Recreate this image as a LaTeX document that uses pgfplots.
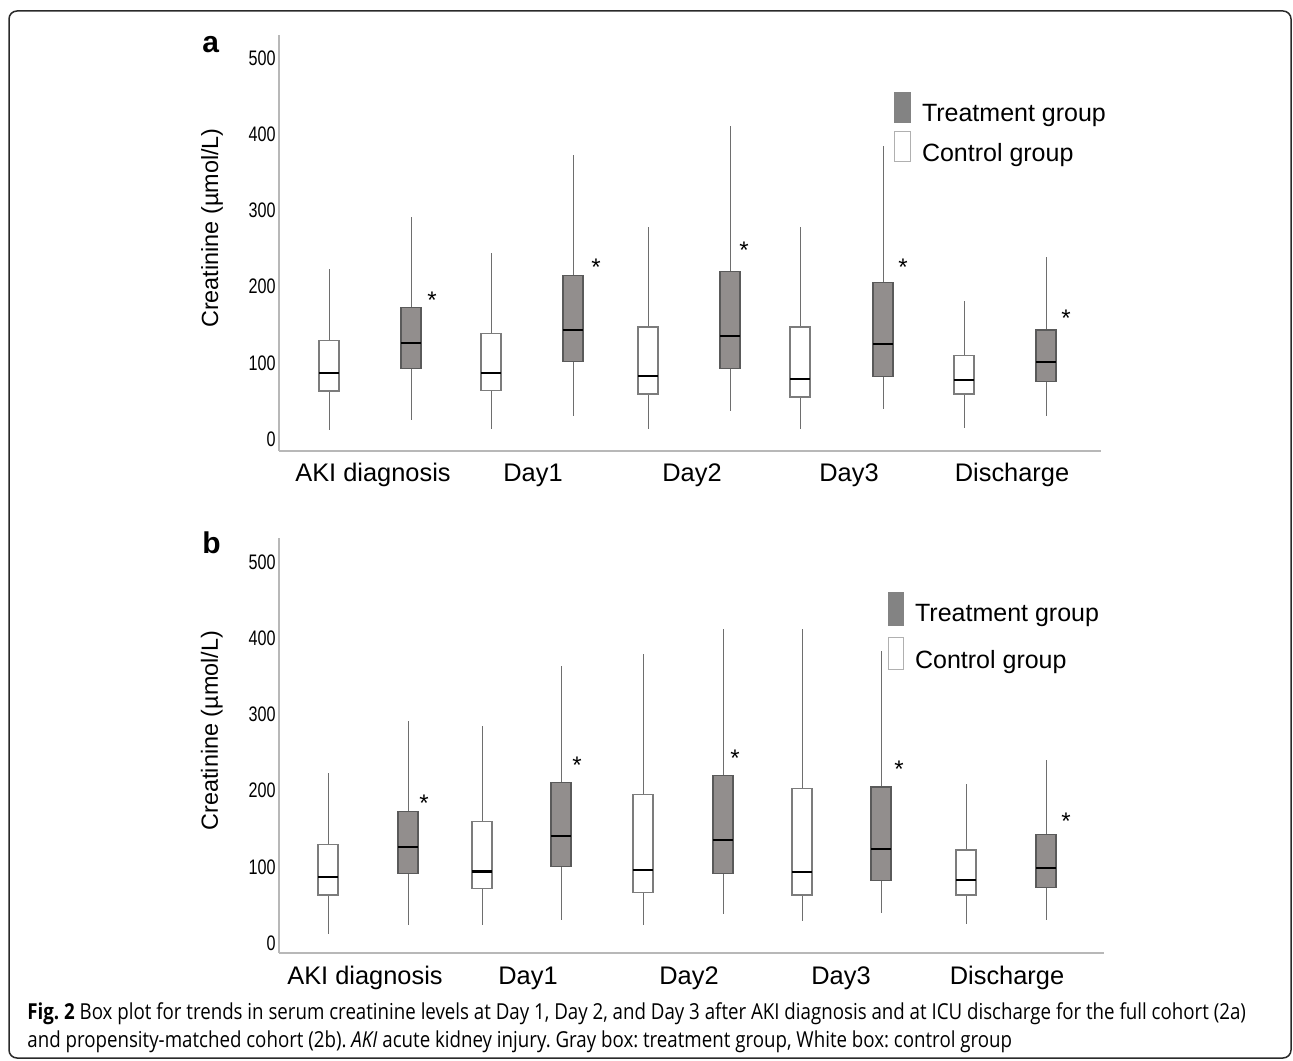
\documentclass[border=0pt]{standalone}
\usepackage{pgfplots}
\pgfplotsset{compat=1.18}
\usepgfplotslibrary{statistics}
\usepackage{fontspec}
\setmainfont{Liberation Sans}
\newfontfamily\narrowfont[FakeStretch=0.77]{Liberation Sans}
\newfontfamily\capfont[FakeStretch=0.85]{Open Sans}
\definecolor{treatfill}{HTML}{928E8D}
\definecolor{legtreat}{HTML}{838383}
\definecolor{boxedge}{HTML}{5A5A5A}
\definecolor{whisk}{HTML}{6E6E6E}
\definecolor{ctrledge}{HTML}{7C7C7C}
\definecolor{axisgray}{HTML}{B8B8B8}
\definecolor{framecol}{HTML}{2A2A2A}

\tikzset{sigstar/.style={font=\fontsize{12}{12}\selectfont, yshift=-2.6pt, inner sep=0pt}}

\pgfplotsset{
  panel/.style={
    scale only axis,
    axis x line*=bottom, axis y line*=left,
    axis line style={draw=axisgray, line width=0.75pt, -},
    major tick length=0pt,
    ytick={0,100,200,300,400,500},
    xticklabels={AKI diagnosis, Day1, Day2, Day3, Discharge},
    /pgf/number format/assume math mode=true,
    yticklabel style={font=\narrowfont\fontsize{10.5}{12}\selectfont, anchor=east, inner sep=0pt, xshift=-1.5pt},
    xticklabel style={font=\fontsize{12.7}{14}\selectfont, anchor=base, inner sep=0pt, yshift=-15.5pt},
    ylabel={Creatinine (µmol/L)},
    every axis y label/.style={rotate=90, anchor=center, font=\fontsize{11.7}{13}\selectfont, at={(axis description cs:-0.0815,0.536)}},
    clip=false,
    legend cell align=left,
    boxplot/draw direction=y,
  },
  treat/.style={forget plot, draw=boxedge, line width=0.6pt, solid,
    boxplot/every box/.style={fill=treatfill, draw=boxedge, line width=0.6pt},
    boxplot/every median/.style={draw=black, line width=1.1pt},
    boxplot/every whisker/.style={draw=whisk, line width=0.5pt}},
  ctrl/.style={forget plot, draw=ctrledge, line width=0.6pt, solid,
    boxplot/every box/.style={fill=white, draw=ctrledge, line width=0.6pt},
    boxplot/every median/.style={draw=black, line width=1.1pt},
    boxplot/every whisker/.style={draw=whisk, line width=0.5pt}},
}

\begin{document}
\frenchspacing
\begin{tikzpicture}[x=0.5pt,y=0.5pt]
\path[use as bounding box] (0,0) rectangle (1293,1060);
\draw[framecol, line width=0.75pt, rounded corners=4pt] (9,1049) rectangle (1291,2);

\node[anchor=base west, inner sep=0pt, font=\bfseries\fontsize{15}{15}\selectfont] at (202,1007) {a};
\node[anchor=base west, inner sep=0pt, font=\bfseries\fontsize{15}{15}\selectfont] at (202,506) {b};

% ---------------- panel a ----------------
\begin{axis}[panel,
  at={(139.5pt,304.5pt)}, anchor=south west,
  width=411pt, height=208pt,
  xmin=279, xmax=1101, ymin=-15.7, ymax=530,
  xtick={373,533,692,849,1012},
  legend style={at={(axis cs:894,455.4)}, anchor=north west, draw=none, fill=none,
    inner sep=0pt, outer sep=0pt, column sep=5.5pt, row sep=3.1pt,
    nodes={inner sep=0pt}, font=\fontsize{12.5}{14}\selectfont},
]
\addplot[ctrl, boxplot prepared={draw position=329, lower whisker=12, lower quartile=63, median=87, upper quartile=129, upper whisker=223, box extend=20, whisker extend=0}] coordinates {};
\addplot[treat, boxplot prepared={draw position=411, lower whisker=25, lower quartile=92, median=126, upper quartile=173, upper whisker=291, box extend=20, whisker extend=0}] coordinates {};
\addplot[ctrl, boxplot prepared={draw position=491, lower whisker=13, lower quartile=64, median=87, upper quartile=138, upper whisker=244, box extend=20, whisker extend=0}] coordinates {};
\addplot[treat, boxplot prepared={draw position=573, lower whisker=30, lower quartile=102, median=143, upper quartile=214, upper whisker=373, box extend=20, whisker extend=0}] coordinates {};
\addplot[ctrl, boxplot prepared={draw position=648, lower whisker=13, lower quartile=59, median=83, upper quartile=147, upper whisker=278, box extend=20, whisker extend=0}] coordinates {};
\addplot[treat, boxplot prepared={draw position=730, lower whisker=37, lower quartile=92, median=135, upper quartile=220, upper whisker=411, box extend=20, whisker extend=0}] coordinates {};
\addplot[ctrl, boxplot prepared={draw position=800, lower whisker=13, lower quartile=55, median=79, upper quartile=147, upper whisker=278, box extend=20, whisker extend=0}] coordinates {};
\addplot[treat, boxplot prepared={draw position=883, lower whisker=39, lower quartile=82, median=125, upper quartile=205, upper whisker=385, box extend=20, whisker extend=0}] coordinates {};
\addplot[ctrl, boxplot prepared={draw position=964, lower whisker=14, lower quartile=59, median=77, upper quartile=110, upper whisker=181, box extend=20, whisker extend=0}] coordinates {};
\addplot[treat, boxplot prepared={draw position=1046, lower whisker=30, lower quartile=75, median=101, upper quartile=143, upper whisker=239, box extend=20, whisker extend=0}] coordinates {};
\addlegendimage{legend image code/.code={\fill[legtreat] (0pt,-4pt) rectangle (8pt,11pt);}}
\addlegendentry{Treatment group}
\addlegendimage{legend image code/.code={\draw[ctrledge!60, line width=0.5pt, fill=white] (0pt,-3.5pt) rectangle (8pt,11.5pt);}}
\addlegendentry{Control group}
\node[sigstar] at (axis cs:432,189) {*};
\node[sigstar] at (axis cs:596,232) {*};
\node[sigstar] at (axis cs:744,255) {*};
\node[sigstar] at (axis cs:903,232) {*};
\node[sigstar] at (axis cs:1066,165) {*};
\end{axis}

% ---------------- panel b ----------------
\begin{axis}[panel,
  at={(139.5pt,53.5pt)}, anchor=south west,
  width=412.5pt, height=207.5pt,
  xmin=279, xmax=1104, ymin=-13.2, ymax=532,
  xtick={365,528,689,841,1007},
  legend style={at={(axis cs:887.5,460.6)}, anchor=north west, draw=none, fill=none,
    inner sep=0pt, outer sep=0pt, column sep=5.8pt, row sep=5.6pt,
    nodes={inner sep=0pt}, font=\fontsize{12.5}{14}\selectfont},
]
\addplot[ctrl, boxplot prepared={draw position=328, lower whisker=12, lower quartile=63, median=87, upper quartile=129, upper whisker=223, box extend=20, whisker extend=0}] coordinates {};
\addplot[treat, boxplot prepared={draw position=408, lower whisker=24, lower quartile=91, median=126, upper quartile=173, upper whisker=292, box extend=20, whisker extend=0}] coordinates {};
\addplot[ctrl, boxplot prepared={draw position=482, lower whisker=24, lower quartile=72, median=94, upper quartile=160, upper whisker=285, box extend=20, whisker extend=0}] coordinates {};
\addplot[treat, boxplot prepared={draw position=561, lower whisker=30, lower quartile=100, median=140, upper quartile=211, upper whisker=364, box extend=20, whisker extend=0}] coordinates {};
\addplot[ctrl, boxplot prepared={draw position=643, lower whisker=23, lower quartile=66, median=96, upper quartile=195, upper whisker=379, box extend=20, whisker extend=0}] coordinates {};
\addplot[treat, boxplot prepared={draw position=723, lower whisker=38, lower quartile=91, median=135, upper quartile=220, upper whisker=412, box extend=20, whisker extend=0}] coordinates {};
\addplot[ctrl, boxplot prepared={draw position=802, lower whisker=29, lower quartile=63, median=93, upper quartile=203, upper whisker=412, box extend=20, whisker extend=0}] coordinates {};
\addplot[treat, boxplot prepared={draw position=881, lower whisker=39, lower quartile=82, median=123, upper quartile=205, upper whisker=384, box extend=20, whisker extend=0}] coordinates {};
\addplot[ctrl, boxplot prepared={draw position=966, lower whisker=25, lower quartile=63, median=83, upper quartile=122, upper whisker=209, box extend=20, whisker extend=0}] coordinates {};
\addplot[treat, boxplot prepared={draw position=1046, lower whisker=30, lower quartile=73, median=98, upper quartile=143, upper whisker=240, box extend=20, whisker extend=0}] coordinates {};
\addlegendimage{legend image code/.code={\fill[legtreat] (0pt,-5.5pt) rectangle (7.5pt,11pt);}}
\addlegendentry{Treatment group}
\addlegendimage{legend image code/.code={\draw[ctrledge!60, line width=0.5pt, fill=white] (0pt,-4.5pt) rectangle (7.5pt,11.5pt);}}
\addlegendentry{Control group}
\node[sigstar] at (axis cs:424,190) {*};
\node[sigstar] at (axis cs:577,240) {*};
\node[sigstar] at (axis cs:735,249) {*};
\node[sigstar] at (axis cs:899,235) {*};
\node[sigstar] at (axis cs:1066,167) {*};
\end{axis}

% ---------------- caption ----------------
\node[anchor=base west, inner sep=0pt, font=\capfont\fontsize{11}{13}\selectfont] at (27,41)
  {\textbf{Fig. 2} Box plot for trends in serum creatinine levels at Day 1, Day 2, and Day 3 after AKI diagnosis and at ICU discharge for the full cohort (2a)};
\node[anchor=base west, inner sep=0pt, font=\capfont\fontsize{11}{13}\selectfont] at (27,13)
  {and propensity-matched cohort (2b). \textit{AKI} acute kidney injury. Gray box: treatment group, White box: control group};
\end{tikzpicture}
\end{document}
